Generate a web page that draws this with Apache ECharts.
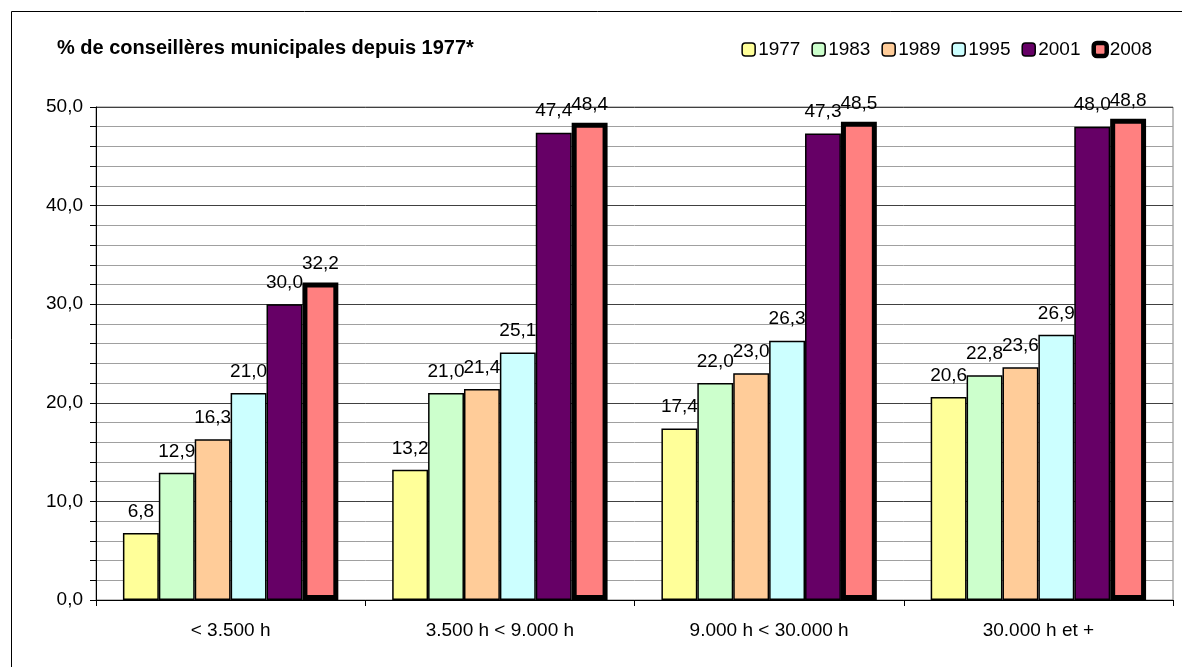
<!DOCTYPE html>
<html>
<head>
<meta charset="utf-8">
<script src="https://cdn.jsdelivr.net/npm/echarts@6/dist/echarts.min.js"></script>
<style>
  html, body { margin: 0; padding: 0; background: #fff; }
  #chart { width: 1182px; height: 667px; }
</style>
</head>
<body>
<div id="chart"></div>
<script>
// % de conseillères municipales depuis 1977, par taille de commune
const categories = ['< 3.500 h', '3.500 h < 9.000 h', '9.000 h < 30.000 h', '30.000 h et +'];
const years = ['1977', '1983', '1989', '1995', '2001', '2008'];
const v1977 = [6.8, 13.2, 17.4, 20.6];
const v1983 = [12.9, 21.0, 22.0, 22.8];
const v1989 = [16.3, 21.4, 23.0, 23.6];
const v1995 = [21.0, 25.1, 26.3, 26.9];
const v2001 = [30.0, 47.4, 47.3, 48.0];
const v2008 = [32.2, 48.4, 48.5, 48.8];

const values = [v1977, v1983, v1989, v1995, v2001, v2008];
const fills = ['#FFFF99', '#CCFFCC', '#FFCC99', '#CCFFFF', '#660066', '#FF8080'];
const FONT = 'Liberation Sans, Arial, sans-serif';
const fmt = v => v.toFixed(1).replace('.', ',');

const chart = echarts.init(document.getElementById('chart'), null, { renderer: 'canvas' });

const series = years.map((y, i) => {
  const last = i === years.length - 1;
  return {
    name: y, type: 'bar', data: values[i],
    barGap: '0%', barCategoryGap: '20%',
    itemStyle: { color: fills[i], borderColor: '#000', borderWidth: last ? 5 : 1.5 },
    label: {
      show: true, position: 'top', distance: last ? 9 : 12,
      formatter: p => fmt(p.value),
      color: '#000', fontFamily: FONT, fontSize: 19,
    },
  };
});

// l'icône 2008 est un carré noir avec un petit point saumon
const legendData = years.map((y, i) =>
  i === years.length - 1 ? { name: y, itemStyle: { borderWidth: 4.5 } } : { name: y, itemStyle: { borderWidth: 1.5 } });

chart.setOption({
  animation: false,
  backgroundColor: '#fff',
  title: {
    text: '% de conseillères municipales depuis 1977*',
    left: 52, top: 33,
    textStyle: { fontFamily: FONT, fontSize: 20, fontWeight: 'bold', color: '#000' },
  },
  legend: {
    right: 25, top: 35, itemWidth: 13, itemHeight: 13, itemGap: 11,
    textStyle: { fontFamily: FONT, fontSize: 19, color: '#000', padding: [0, 0, 0, -2] },
    data: legendData,
  },
  graphic: [{
    type: 'rect', silent: true, z: -1,
    shape: { x: 11.5, y: 11.5, width: 1200, height: 700 },
    style: { fill: null, stroke: '#000', lineWidth: 1 },
  }],
  grid: {
    left: 96, right: 9, top: 107, bottom: 67,
    show: true, borderColor: '#808080', borderWidth: 1, backgroundColor: 'transparent',
  },
  xAxis: {
    type: 'category', data: categories,
    axisLine: { lineStyle: { color: '#000', width: 1 } },
    axisTick: { show: true, length: 6, lineStyle: { color: '#000' } },
    axisLabel: { color: '#000', fontFamily: FONT, fontSize: 19, margin: 21 },
  },
  yAxis: {
    type: 'value', min: 0, max: 50, interval: 10,
    axisLine: { show: true, lineStyle: { color: '#000', width: 1 } },
    axisTick: { show: true, length: 6, lineStyle: { color: '#000' } },
    minorTick: { show: true, splitNumber: 5, length: 6, lineStyle: { color: '#000' } },
    splitLine: { show: true, lineStyle: { color: '#404040', width: 1 } },
    minorSplitLine: { show: true, lineStyle: { color: '#a0a0a0', width: 1 } },
    axisLabel: { color: '#000', fontFamily: FONT, fontSize: 19, margin: 13, formatter: v => fmt(v) },
  },
  series,
});
</script>
</body>
</html>
